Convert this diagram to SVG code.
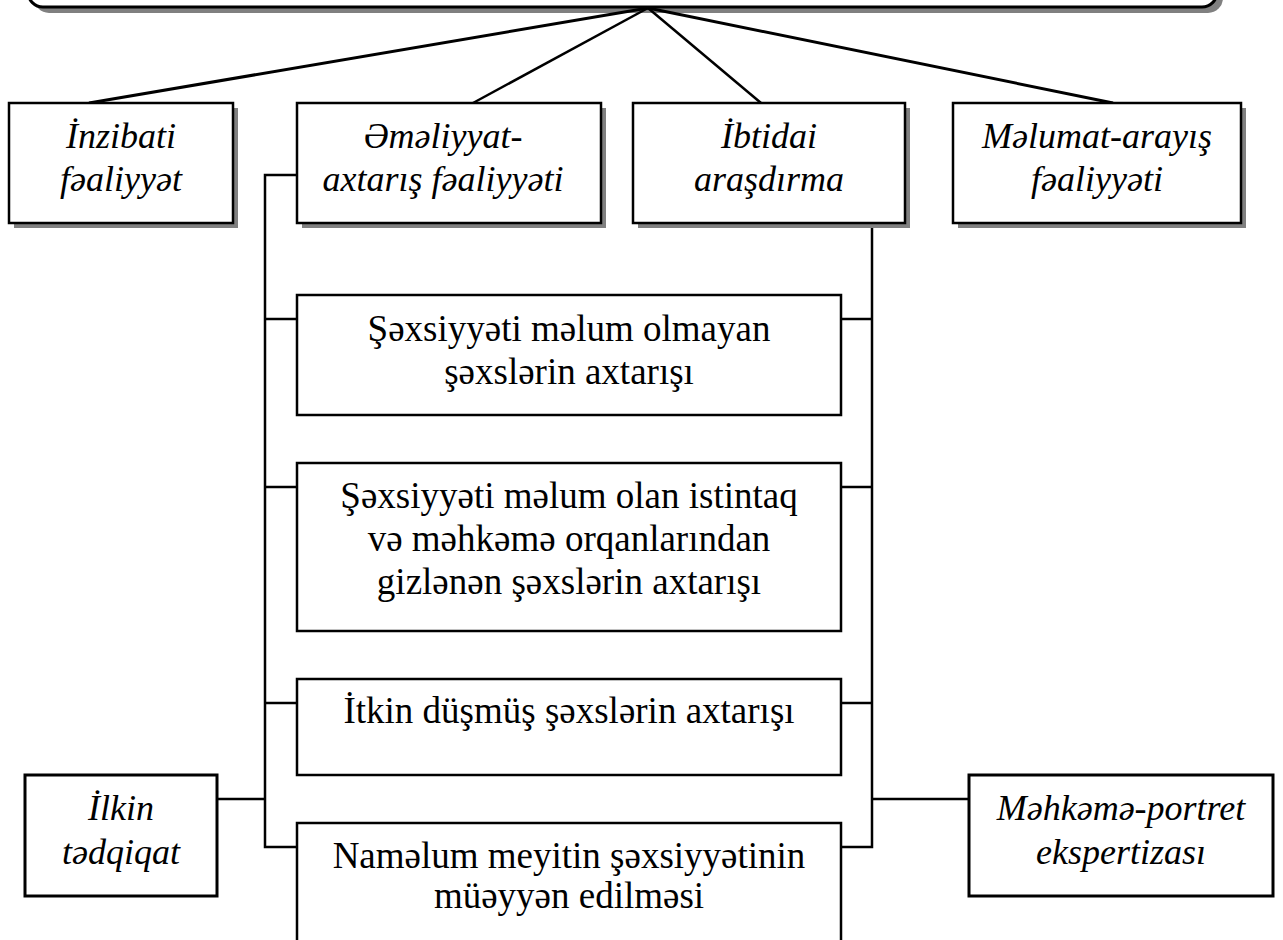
<svg xmlns="http://www.w3.org/2000/svg" width="1283" height="940" viewBox="0 0 1283 940">
<style>
.shadow{fill:#808080;stroke:none}
.box{fill:#fff;stroke:#000;stroke-width:2.5}
.tb{fill:#fff;stroke:#000;stroke-width:3}
.ln{stroke:#000;stroke-width:2.5;fill:none}
.lnb{stroke:#000;stroke-width:3;fill:none}
text{font-family:'Liberation Serif','Times New Roman','DejaVu Serif',serif;text-anchor:middle;fill:#000}
.it{font-style:italic;font-size:36px}
.rg{font-size:37px}
</style>
<rect width="1283" height="940" fill="#fff"/>
<g id="top">
<rect class="shadow" x="34" y="-54" width="1189" height="67" rx="15"/>
<rect class="tb" x="28" y="-60" width="1189" height="67" rx="15"/>
</g>
<g id="connectors">
<line class="lnb" x1="648" y1="8" x2="89" y2="103"/>
<line class="ln" x1="648" y1="8" x2="473" y2="103"/>
<line class="ln" x1="648" y1="8" x2="761" y2="103"/>
<line class="lnb" x1="648" y1="8" x2="1113" y2="103"/>
<polyline class="ln" points="297,175 265,175 265,847 297,847"/>
<line class="ln" x1="265" y1="319" x2="297" y2="319"/>
<line class="ln" x1="265" y1="487" x2="297" y2="487"/>
<line class="ln" x1="265" y1="703" x2="297" y2="703"/>
<line class="ln" x1="217" y1="799" x2="265" y2="799"/>
<polyline class="ln" points="872,223 872,847 841,847"/>
<line class="ln" x1="841" y1="319" x2="872" y2="319"/>
<line class="ln" x1="841" y1="487" x2="872" y2="487"/>
<line class="ln" x1="841" y1="703" x2="872" y2="703"/>
<line class="ln" x1="872" y1="799" x2="969" y2="799"/>
</g>
<g id="inzibati">
<rect class="shadow" x="14" y="108" width="224" height="120"/>
<rect class="box" x="9" y="103" width="224" height="120"/>
<text class="it" x="121" y="148" font-family="Liberation Serif">İnzibati</text>
<text class="it" x="121" y="191" font-family="Liberation Serif">fəaliyyət</text>
</g>
<g id="emeliyyat">
<rect class="shadow" x="302" y="108" width="304" height="120"/>
<rect class="box" x="297" y="103" width="304" height="120"/>
<text class="it" x="443" y="148">Əməliyyat-</text>
<text class="it" x="443" y="191">axtarış fəaliyyəti</text>
</g>
<g id="ibtidai">
<rect class="shadow" x="638" y="108" width="272" height="120"/>
<rect class="box" x="633" y="103" width="272" height="120"/>
<text class="it" x="769" y="148">İbtidai</text>
<text class="it" x="769" y="191">araşdırma</text>
</g>
<g id="melumat">
<rect class="shadow" x="958" y="108" width="288" height="120"/>
<rect class="box" x="953" y="103" width="288" height="120"/>
<text class="it" x="1097" y="148">Məlumat-arayış</text>
<text class="it" x="1097" y="191">fəaliyyəti</text>
</g>
<g id="box1">
<rect class="box" x="297" y="295" width="544" height="120"/>
<text class="rg" x="569" y="341">Şəxsiyyəti məlum olmayan</text>
<text class="rg" x="569" y="384">şəxslərin axtarışı</text>
</g>
<g id="box2">
<rect class="box" x="297" y="463" width="544" height="168"/>
<text class="rg" x="569" y="508">Şəxsiyyəti məlum olan istintaq</text>
<text class="rg" x="569" y="551">və məhkəmə orqanlarından</text>
<text class="rg" x="569" y="594">gizlənən şəxslərin axtarışı</text>
</g>
<g id="box3">
<rect class="box" x="297" y="679" width="544" height="96"/>
<text class="rg" x="569" y="723">İtkin düşmüş şəxslərin axtarışı</text>
</g>
<g id="box4">
<rect class="box" x="297" y="823" width="544" height="140"/>
<text class="rg" x="569" y="868">Naməlum meyitin şəxsiyyətinin</text>
<text class="rg" x="569" y="908">müəyyən edilməsi</text>
</g>
<g id="ilkin">
<rect class="tb" x="25" y="775" width="192" height="121"/>
<text class="it" x="121" y="820">İlkin</text>
<text class="it" x="121" y="864">tədqiqat</text>
</g>
<g id="mehkeme">
<rect class="tb" x="969" y="775" width="304" height="121"/>
<text class="it" x="1121" y="820">Məhkəmə-portret</text>
<text class="it" x="1121" y="864">ekspertizası</text>
</g>
</svg>
